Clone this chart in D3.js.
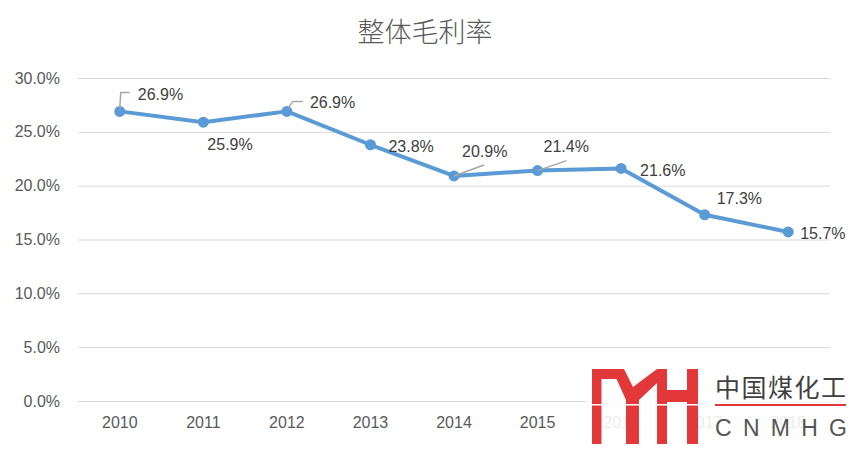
<!DOCTYPE html>
<html>
<head>
<meta charset="utf-8">
<script src="https://cdn.jsdelivr.net/npm/d3@7/dist/d3.min.js"></script>
<style>
  html, body { margin: 0; padding: 0; background: #fff; }
  svg { display: block; }
</style>
</head>
<body>
<svg id="chart" width="852" height="449"></svg>
<script>
// ---- data ----
const categories = ["2010", "2011", "2012", "2013", "2014", "2015", "2016", "2017", "2018"];
const grossMargin = [26.9, 25.9, 26.9, 23.8, 20.9, 21.4, 21.6, 17.3, 15.7];
const yTicks = [0, 5, 10, 15, 20, 25, 30];
const title = "整体毛利率";

// ---- label layout (offsets from each point, px) ----
const labelLayout = [
  { dx: 18, dy: -17, leader: [[0, -3], [1, -19], [10, -19]] },
  { dx: 4, dy: 22, leader: null },
  { dx: 23, dy: -9, leader: [[1, -3], [6, -10], [16, -10]] },
  { dx: 18, dy: 1, leader: null },
  { dx: 8, dy: -25, leader: [[0, 0], [30, -11]] },
  { dx: 6, dy: -24, leader: [[0, 0], [29, -10]] },
  { dx: 19, dy: 2, leader: null },
  { dx: 12, dy: -16, leader: null },
  { dx: 12, dy: 1, leader: null }
];

const svg = d3.select("#chart");
const W = 852, H = 449;
const margin = { left: 78, right: 22, top: 78, bottom: 48 };

const x = d3.scaleBand().domain(categories).range([margin.left, W - margin.right]);
const y = d3.scaleLinear().domain([0, 30]).range([H - margin.bottom, margin.top]);

const font = "'Liberation Sans', Arial, sans-serif";

// title
svg.append("text")
  .attr("x", 425).attr("y", 42)
  .attr("text-anchor", "middle")
  .attr("font-family", "'Noto Sans CJK SC', sans-serif")
  .attr("font-weight", 300)
  .attr("font-size", 27)
  .attr("fill", "#595959")
  .text(title);

// gridlines + y axis
const yAxis = d3.axisLeft(y).tickValues(yTicks)
  .tickSize(-(W - margin.left - margin.right))
  .tickFormat(d => d.toFixed(1) + "%")
  .tickPadding(18);
const gy = svg.append("g").attr("transform", `translate(${margin.left},0)`).call(yAxis);
gy.select(".domain").remove();
gy.selectAll(".tick line").attr("stroke", "#d9d9d9").attr("stroke-width", 1);
gy.selectAll(".tick text").attr("font-family", font).attr("font-size", 16).attr("fill", "#595959");

// x axis labels
const xAxis = d3.axisBottom(x).tickSize(0).tickPadding(16);
const gx = svg.append("g").attr("transform", `translate(0,${y(0)})`).call(xAxis);
gx.select(".domain").remove();
gx.selectAll(".tick text").attr("font-family", font).attr("font-size", 16).attr("fill", "#595959");

// line
const cx = (d, i) => x(categories[i]) + x.bandwidth() / 2;
const line = d3.line().x((d, i) => cx(d, i)).y(d => y(d));
svg.append("path")
  .datum(grossMargin)
  .attr("d", line)
  .attr("fill", "none")
  .attr("stroke", "#5B9BD5")
  .attr("stroke-width", 4)
  .attr("stroke-linejoin", "round");

svg.selectAll("circle.pt")
  .data(grossMargin)
  .join("circle")
  .attr("class", "pt")
  .attr("cx", (d, i) => cx(d, i))
  .attr("cy", d => y(d))
  .attr("r", 5.5)
  .attr("fill", "#5B9BD5");

// leaders
grossMargin.forEach((d, i) => {
  const L = labelLayout[i].leader;
  if (!L) return;
  const px = cx(d, i), py = y(d);
  svg.append("path")
    .attr("d", d3.line()(L.map(p => [px + p[0], py + p[1]])))
    .attr("fill", "none")
    .attr("stroke", "#a6a6a6")
    .attr("stroke-width", 1.5);
});

// data labels
svg.selectAll("text.lbl")
  .data(grossMargin)
  .join("text")
  .attr("class", "lbl")
  .attr("x", (d, i) => cx(d, i) + labelLayout[i].dx)
  .attr("y", (d, i) => y(d) + labelLayout[i].dy)
  .attr("dy", "0.36em")
  .attr("font-family", font)
  .attr("font-size", 16)
  .attr("fill", "#404040")
  .text(d => d.toFixed(1) + "%");

// ---- logo overlay ----
const logo = svg.append("g");
logo.append("rect").attr("x", 586).attr("y", 364).attr("width", 266).attr("height", 85)
  .attr("fill", "#fff").attr("opacity", 0.88);
const red = "#e2383a";
logo.append("rect").attr("x", 592).attr("y", 369).attr("width", 9.5).attr("height", 75).attr("fill", red);
logo.append("rect").attr("x", 592).attr("y", 369).attr("width", 31).attr("height", 10).attr("fill", red);
logo.append("path")
  .attr("d", "M612,369 L624,369 L633,387 L657,369 L667,369 L667,444 L657,444 L657,383 L639,400 L639,444 L626,444 L626,400 Z")
  .attr("fill", red);
logo.append("rect").attr("x", 667).attr("y", 390).attr("width", 20).attr("height", 12).attr("fill", red);
logo.append("rect").attr("x", 687).attr("y", 369).attr("width", 11).attr("height", 75).attr("fill", red);
logo.append("rect").attr("x", 588).attr("y", 404).attr("width", 112).attr("height", 1.5).attr("fill", "#fff");

logo.append("text")
  .attr("x", 715).attr("y", 397)
  .attr("font-family", "'Noto Sans CJK SC', sans-serif")
  .attr("font-size", 25)
  .attr("fill", "#404040")
  .attr("textLength", 131).attr("lengthAdjust", "spacing")
  .text("中国煤化工");
logo.append("rect").attr("x", 715).attr("y", 404).attr("width", 131).attr("height", 2).attr("fill", red);
logo.append("text")
  .attr("x", 715).attr("y", 436)
  .attr("font-family", font)
  .attr("font-size", 23)
  .attr("fill", "#555")
  .attr("textLength", 132).attr("lengthAdjust", "spacing")
  .text("CNMHG");
</script>
</body>
</html>
